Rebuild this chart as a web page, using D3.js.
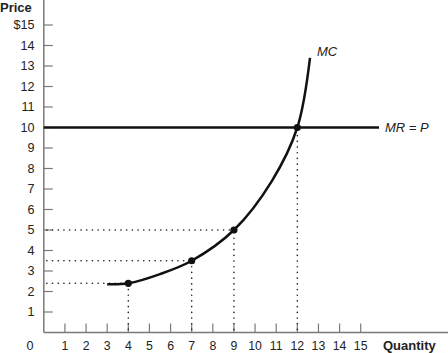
<!DOCTYPE html>
<html>
<head>
<meta charset="utf-8">
<script src="https://cdn.jsdelivr.net/npm/d3@7"></script>
<style>
  body { margin: 0; background: #fff; }
  svg { display: block; font-family: "Liberation Sans", Arial, sans-serif; }
</style>
</head>
<body>
<svg id="chart" width="448" height="353"></svg>
<script>
// data
const xTicks = [1, 2, 3, 4, 5, 6, 7, 8, 9, 10, 11, 12, 13, 14, 15];
const yTicks = [1, 2, 3, 4, 5, 6, 7, 8, 9, 10, 11, 12, 13, 14, 15];
const mcQty = [3, 4, 5.5, 7, 9, 10.8, 12, 12.6];
const mcPrice = [2.35, 2.4, 2.85, 3.5, 5, 7.4, 10, 13.4];
const markQty = [4, 7, 9, 12];
const markPrice = [2.4, 3.5, 5, 10];
const price = 10; // MR = P

const svg = d3.select("#chart");
const x = d3.scaleLinear().domain([0, 15]).range([43.8, 360.7]);
const y = d3.scaleLinear().domain([0, 15]).range([332.5, 25]);

const axisColor = "#7a7a7a";

// axes lines
svg.append("line").attr("x1", x(0)).attr("x2", x(0)).attr("y1", 0).attr("y2", y(0))
  .attr("stroke", axisColor).attr("stroke-width", 1.5);
svg.append("line").attr("x1", x(0)).attr("x2", 448).attr("y1", y(0)).attr("y2", y(0))
  .attr("stroke", axisColor).attr("stroke-width", 1.5);

// y ticks
const yAxis = svg.append("g");
yAxis.selectAll("line").data(yTicks).join("line")
  .attr("x1", x(0)).attr("x2", x(0) + 9)
  .attr("y1", d => y(d)).attr("y2", d => y(d))
  .attr("stroke", axisColor).attr("stroke-width", 1.2);
yAxis.selectAll("text").data(yTicks).join("text")
  .attr("x", 34.5).attr("y", d => y(d)).attr("dy", "0.35em")
  .attr("text-anchor", "end").attr("font-size", 12.6).attr("fill", "#222")
  .text(d => d === 15 ? "$15" : d);

// x ticks
const xAxis = svg.append("g");
xAxis.selectAll("line").data(xTicks).join("line")
  .attr("x1", d => x(d)).attr("x2", d => x(d))
  .attr("y1", y(0)).attr("y2", y(0) - 9)
  .attr("stroke", axisColor).attr("stroke-width", 1.2);
xAxis.selectAll("text").data(xTicks).join("text")
  .attr("x", d => x(d)).attr("y", 349.5)
  .attr("text-anchor", "middle").attr("font-size", 12.3).attr("fill", "#222")
  .text(d => d);

svg.append("text").attr("x", 30).attr("y", 350).attr("text-anchor", "middle")
  .attr("font-size", 12.6).attr("fill", "#222").text("0");
svg.append("text").attr("x", 0).attr("y", 12).attr("font-size", 13)
  .attr("font-weight", "bold").attr("fill", "#222").text("Price");
svg.append("text").attr("x", 383).attr("y", 349.5).attr("font-size", 13)
  .attr("font-weight", "bold").attr("fill", "#222").text("Quantity");

// dotted guides
const dotted = svg.append("g").attr("stroke", "#222").attr("stroke-width", 1.6)
  .attr("stroke-dasharray", "0.1,5.6").attr("stroke-linecap", "round");
markQty.forEach((q, i) => {
  dotted.append("line").attr("x1", x(q)).attr("x2", x(q))
    .attr("y1", y(0) - 3).attr("y2", y(markPrice[i]));
  if (i < 3) {
    dotted.append("line").attr("x1", x(0) + 3).attr("x2", x(q))
      .attr("y1", y(markPrice[i])).attr("y2", y(markPrice[i]));
  }
});

// MR = P line
svg.append("line").attr("x1", x(0)).attr("x2", 379)
  .attr("y1", y(price)).attr("y2", y(price))
  .attr("stroke", "#111").attr("stroke-width", 2.5);
svg.append("text").attr("x", 385).attr("y", y(price)).attr("dy", "0.35em")
  .attr("font-size", 13).attr("font-style", "italic").attr("fill", "#222").text("MR = P");

// MC curve
const mc = mcQty.map((q, i) => [q, mcPrice[i]]);
svg.append("path").datum(mc)
  .attr("fill", "none").attr("stroke", "#111").attr("stroke-width", 2.5)
  .attr("d", d3.line().x(d => x(d[0])).y(d => y(d[1])).curve(d3.curveCatmullRom.alpha(0.5)));
svg.append("text").attr("x", 317).attr("y", 56)
  .attr("font-size", 13).attr("font-style", "italic").attr("fill", "#222").text("MC");

// points
svg.selectAll("circle").data(markQty).join("circle")
  .attr("cx", d => x(d)).attr("cy", (d, i) => y(markPrice[i]))
  .attr("r", 3.6).attr("fill", "#111");
</script>
</body>
</html>
